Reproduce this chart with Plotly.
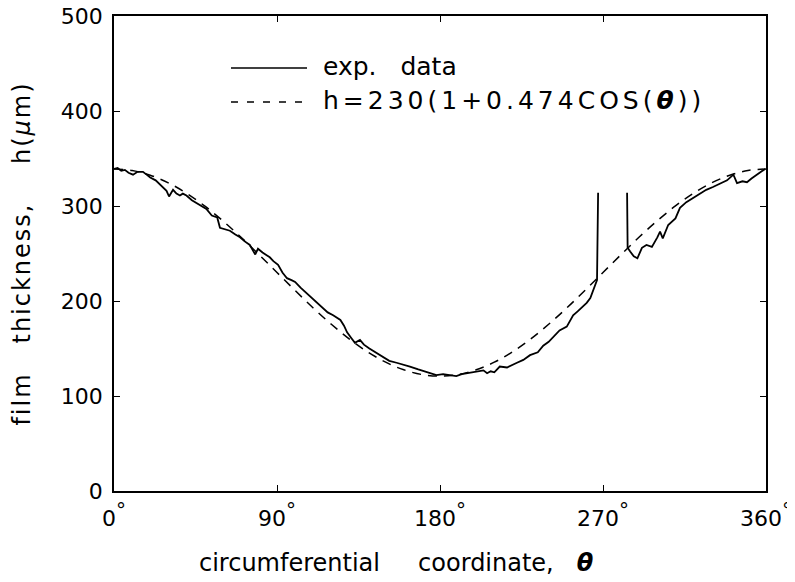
import plotly.graph_objects as go

exp_deg = [0, 2, 4, 6, 8, 10.5, 13, 16, 18, 20, 23, 27, 29, 30.4, 32.6, 34.5, 36.4, 38, 40, 43,
           45.8, 48, 51, 54, 57, 58.5, 61, 64, 67, 69.6, 72, 75, 78, 79.5, 82, 86, 88, 90.6, 93, 95.5,
           98, 100, 103, 106.5, 110, 113.7, 116, 118, 121, 125, 127, 128.7, 131, 133, 135.8, 138, 141,
           145, 148.5, 152, 156, 160, 163.4, 168, 173, 178, 181.7, 184.4, 187, 189, 192, 195, 198, 201,
           204, 206, 208, 210, 213, 217, 220, 222.5, 226, 229.7, 234, 237, 240, 242.4, 246, 250, 253.5,
           256, 259, 261, 263, 265.6, 266.7, 267.3, None, 283.3, 283.6, 285, 287, 289, 291.5, 294, 297,
           300, 301.5, 303, 306, 310, 312.5, 316, 320, 323.6, 327, 330.7, 334, 338.5, 342, 344, 347,
           349.5, 352, 355, 357, 359.5]
exp_h = [339, 340, 337, 338, 335, 333, 336, 336, 333, 330, 327, 320, 316, 310, 317, 313, 311, 313, 311, 306,
         303, 301, 297, 290, 288, 277, 276, 274, 270, 267, 263, 259, 249, 255, 251, 246, 242, 238, 230, 224,
         222, 220, 214, 208, 202, 196, 191, 188, 185, 180, 174, 167, 161, 156, 159, 154, 150,
         145, 141, 137, 135, 133, 131, 128, 125, 122, 123, 122, 121, 121, 123, 124, 125, 126,
         127, 124, 126, 125, 131, 130, 133, 135, 138, 143, 146, 153, 157, 162, 169, 173, 185,
         189, 194, 198, 203, 215, 222, 314, None, 314, 256, 252, 247, 245, 256, 259, 257,
         267, 273, 266, 280, 287, 298, 304, 309, 313, 317, 320, 323, 327, 333, 324, 326,
         325, 329, 333, 336, 339]

# fitted curve h = 230(1+0.474 cos θ), values read at every 10 degrees
fit_deg = [0, 10, 20, 30, 40, 50, 60, 70, 80, 90, 100, 110, 120, 130, 140, 150, 160, 170, 180,
           190, 200, 210, 220, 230, 240, 250, 260, 270, 280, 290, 300, 310, 320, 330, 340, 350, 360]
fit_h = [339.0, 337.4, 332.4, 324.4, 313.5, 300.1, 284.5, 267.3, 248.9, 230.0, 211.1, 192.7, 175.5,
         159.9, 146.5, 135.6, 127.6, 122.6, 121.0, 122.6, 127.6, 135.6, 146.5, 159.9, 175.5, 192.7,
         211.1, 230.0, 248.9, 267.3, 284.5, 300.1, 313.5, 324.4, 332.4, 337.4, 339.0]

x_ticks = [0, 90, 180, 270, 360]
x_tick_numbers = ["0", "90", "180", "270", "360"]
DEG = "<sup><span style='font-size:20px'>°</span></sup>"
x_ticktext = [t + DEG for t in x_tick_numbers]
y_ticks = [0, 100, 200, 300, 400, 500]

legend_labels = ["exp.&nbsp;&nbsp; data",
                 "<span style='letter-spacing:4px'>h=230(1+0.474COS(<b><i>θ</i></b>))</span>"]
x_title = "circumferential&nbsp;&nbsp;&nbsp;&nbsp; coordinate,&nbsp;&nbsp; <b><i>θ</i></b>"
y_title = "<span style='letter-spacing:2px'>film&nbsp;&nbsp; thickness,&nbsp;&nbsp;&nbsp; h(<i>μ</i>m)</span>"

FONT = "DejaVu Sans"

# page is drawn with an ~8px offset, so the figure is sized/margined to land the plot
# area at x 114..766, y 16..491 of the window
OFF = 8
W, H = 795 - OFF, 582 - OFF
PL, PR, PT, PB = 114 - OFF, 766 - OFF, 16 - OFF, 491 - OFF
pw, ph = PR - PL, PB - PT


def px(xw):
    return (xw - OFF - PL) / pw


def py(yw):
    return (PB - (yw - OFF)) / ph


fig = go.Figure()
fig.add_trace(go.Scatter(x=fit_deg, y=fit_h, mode="lines", line_shape="spline",
                         line=dict(color="black", width=1.5, dash="9px,7px"), showlegend=False))
fig.add_trace(go.Scatter(x=exp_deg, y=exp_h, mode="lines", connectgaps=False,
                         line=dict(color="black", width=1.8), showlegend=False))

axis_common = dict(showline=True, linecolor="black", linewidth=1.5, mirror="ticks",
                   ticks="inside", ticklen=6, tickwidth=1.3, tickcolor="black",
                   showgrid=False, zeroline=False, automargin=False,
                   ticklabeloverflow="allow",
                   tickfont=dict(family=FONT, size=22, color="black"))

fig.update_xaxes(range=[0, 360], tickvals=x_ticks, ticktext=x_ticktext,
                 ticklabelstandoff=7, **axis_common)
fig.update_yaxes(range=[0, 500], tickvals=y_ticks,
                 ticklabelstandoff=5,
                 title=dict(text=y_title, font=dict(family=FONT, size=24, color="black"), standoff=24),
                 **axis_common)

# manual legend
shapes = [
    dict(type="line", xref="paper", yref="paper", x0=px(231), x1=px(307),
         y0=py(68), y1=py(68), line=dict(color="black", width=1.5)),
    dict(type="line", xref="paper", yref="paper", x0=px(231), x1=px(307),
         y0=py(102), y1=py(102), line=dict(color="black", width=1.5, dash="7px,9px")),
]
annotations = [
    dict(text=legend_labels[0], xref="paper", yref="paper", x=px(321), y=py(66),
         xanchor="left", yanchor="middle", showarrow=False,
         font=dict(family=FONT, size=25, color="black")),
    dict(text=legend_labels[1], xref="paper", yref="paper", x=px(321), y=py(100),
         xanchor="left", yanchor="middle", showarrow=False,
         font=dict(family=FONT, size=25, color="black")),
    dict(text=x_title, xref="paper", yref="paper", x=px(197), y=py(563),
         xanchor="left", yanchor="middle", showarrow=False,
         font=dict(family=FONT, size=24, color="black")),
]

fig.update_layout(width=W, height=H, margin=dict(l=PL, r=W - PR, t=PT, b=H - PB),
                  paper_bgcolor="white", plot_bgcolor="white",
                  shapes=shapes, annotations=annotations, showlegend=False,
                  font=dict(family=FONT, color="black"))

fig.write_html("out.html")
